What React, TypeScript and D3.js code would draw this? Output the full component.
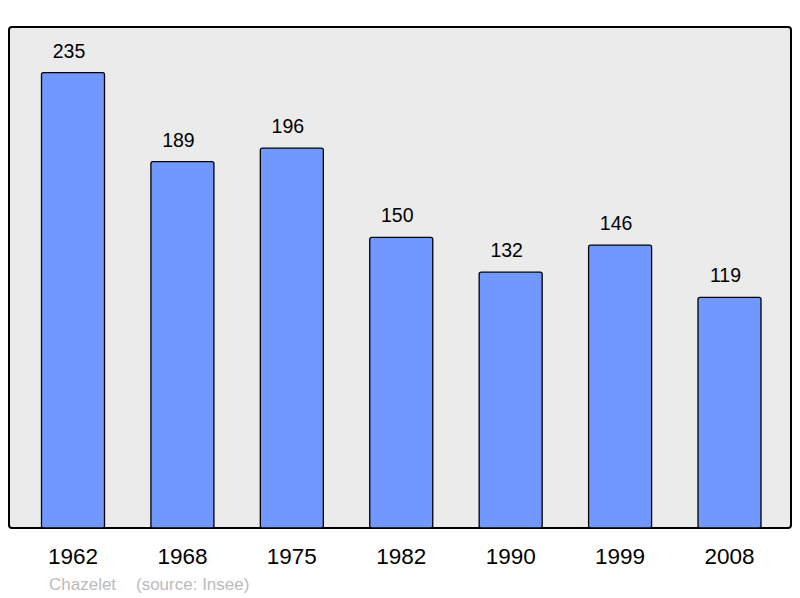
import React from "react";
import * as d3 from "d3";

const years = ["1962", "1968", "1975", "1982", "1990", "1999", "2008"];
const values = [235, 189, 196, 150, 132, 146, 119];
const commune = "Chazelet";
const source = "(source: Insee)";

export default function App() {
  const W = 800, H = 598;
  const frame = { x0: 9, y0: 27, x1: 791, y1: 528 };
  const x = d3.scalePoint<string>().domain(years).range([73, 729.5]);
  const y = d3.scaleLinear().domain([0, 235 * 1.1]).range([frame.y1, frame.y0]);
  const bw = 63;
  const font = "'Liberation Sans', Arial, sans-serif";
  return (
    <svg width={W} height={H} style={{ position: "absolute", left: 0, top: 0 }} fontFamily={font}>
      <rect x={0} y={0} width={W} height={H} fill="#ffffff" />
      <rect x={frame.x0} y={frame.y0} width={frame.x1 - frame.x0} height={frame.y1 - frame.y0}
        fill="#ebebeb" stroke="#000" strokeWidth={2} rx={3} />
      {years.map((yr, i) => (
        <g key={yr}>
          <rect x={x(yr)! - bw / 2} y={y(values[i])} width={bw} height={frame.y1 - y(values[i])}
            fill="#7098ff" stroke="#000" strokeWidth={1.3} rx={2} />
          <text x={x(yr)! - 4} y={y(values[i]) - 15} textAnchor="middle" fontSize={19.5} fill="#000">{values[i]}</text>
          <text x={x(yr)} y={564} textAnchor="middle" fontSize={22.5} fill="#000">{yr}</text>
        </g>
      ))}
      <text x={49} y={590} fontSize={17} fill="#bbbbbb">{commune}</text>
      <text x={136} y={590} fontSize={17} fill="#bbbbbb">{source}</text>
    </svg>
  );
}
